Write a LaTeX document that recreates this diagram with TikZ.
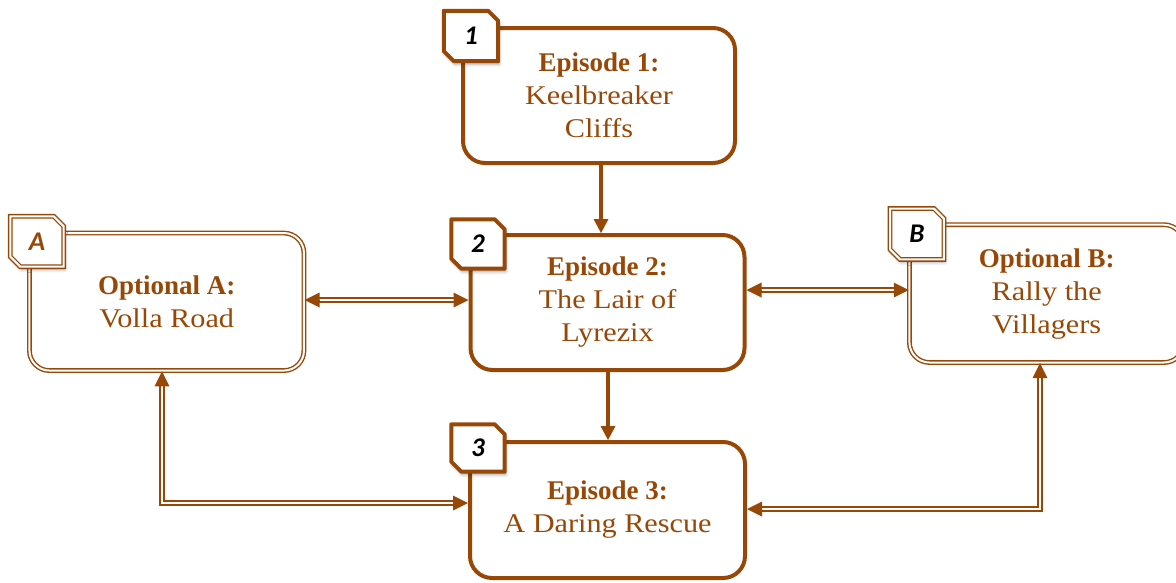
\documentclass[tikz,border=0pt]{standalone}
\usepackage{fontspec}
\setmainfont{Liberation Serif}[FakeStretch=1.12]
\newfontfamily\hdfont{Liberation Serif Bold}
\newfontfamily\badgefont{Carlito Bold Italic}
\usetikzlibrary{arrows.meta,shadows.blur,calc}
\definecolor{rust}{HTML}{984806}
\newcommand\badgeframe[2]{%
  \draw[#2] (#1.north west) -- ([xshift=-10pt]#1.north east) -- ([yshift=-10pt]#1.north east)
    -- (#1.south east) -- ([xshift=10pt]#1.south west) -- ([yshift=10pt]#1.south west) -- cycle;}
\newcommand\tipat[2]{\draw[tipstyle] ($(#2)!3pt!(#1)$) -- (#2);}
\begin{document}
\begin{tikzpicture}[x=1pt,y=-1pt,
  eptext/.style={text=rust, align=center, font=\fontsize{27}{33}\selectfont},
  epbox/.style={draw=rust, line width=4pt, rounded corners=22pt, eptext, inner sep=0pt},
  optbox/.style={draw=rust, line width=1.4pt, double=white, double distance=2pt, rounded corners=20pt, eptext, inner sep=0pt},
  badgenode/.style={inner sep=0pt},
  badgetext/.style={font=\badgefont\fontsize{27}{27}\selectfont, inner sep=0pt},
  epframe/.style={draw=rust, line width=4pt, fill=white, line join=round,
    blur shadow={shadow xshift=1pt, shadow yshift=-3pt, shadow opacity=35, shadow blur radius=3pt}},
  optframe/.style={draw=rust, line width=1.4pt, double=white, double distance=2pt, fill=white,
    blur shadow={shadow xshift=1pt, shadow yshift=-3pt, shadow opacity=35, shadow blur radius=3pt}},
  solidarrow/.style={draw=rust, line width=4pt, -{Triangle[length=14pt,width=15pt,line width=0pt]}},
  dblline/.style={draw=rust, line width=1.8pt, double=white, double distance=2.4pt},
  tipstyle/.style={draw=rust, line width=0.5pt, -{Triangle[length=15pt,width=15pt,line width=0pt]}},
]
\useasboundingbox (0,0) rectangle (1176,582);
\clip (0,0) rectangle (1176,582);

% boxes
\node[epbox, minimum width=272pt, minimum height=135pt] (e1) at (599,95.5)
  {{\hdfont Episode 1:}\\Keelbreaker\\Cliffs};
\node[epbox, minimum width=274pt, minimum height=135pt] (e2) at (607.5,302.5)
  {{\hdfont Episode 2:}\\The Lair of\\Lyrezix};
\node[epbox, minimum width=275pt, minimum height=136pt] (e3) at (607.5,510)
  {{\hdfont Episode 3:}\\A Daring Rescue};
\node[optbox, minimum width=274.5pt, minimum height=137.5pt] (oa) at (166.7,301.8)
  {{\hdfont Optional A:}\\Volla Road};
\node[optbox, minimum width=274.5pt, minimum height=137.8pt] (ob) at (1046.7,293.6)
  {{\hdfont Optional B:}\\Rally the\\Villagers};

% helper coordinates
\coordinate (x601) at (601,0);
\coordinate (x608) at (608,0);
\coordinate (y300) at (0,300);
\coordinate (y290) at (0,290);
\coordinate (y503) at (0,503);
\coordinate (x162) at (162,0);
\coordinate (y509) at (0,509);
\coordinate (x1040) at (1040,0);

% solid arrows
\draw[solidarrow] (e1.south -| x601) -- (e2.north -| x601);
\draw[solidarrow] (e2.south -| x608) -- (e3.north -| x608);

% A <-> 2
\coordinate (ca1) at (oa.east |- y300);
\coordinate (ca2) at (e2.west |- y300);
\draw[dblline, shorten <=13pt, shorten >=13pt] (ca1) -- (ca2);
\tipat{ca2}{ca1}
\tipat{ca1}{ca2}

% 2 <-> B
\coordinate (cb1) at (e2.east |- y290);
\coordinate (cb2) at (ob.west |- y290);
\draw[dblline, shorten <=13pt, shorten >=13pt] (cb1) -- (cb2);
\tipat{cb2}{cb1}
\tipat{cb1}{cb2}

% 3 <-> A
\coordinate (cc1) at (e3.west |- y503);
\coordinate (cc2) at (oa.south -| x162);
\coordinate (ccc) at (x162 |- y503);
\draw[dblline, shorten <=13pt, shorten >=13pt] (cc1) -| (cc2);
\tipat{ccc}{cc1}
\tipat{ccc}{cc2}

% B <-> 3
\coordinate (cd1) at (ob.south -| x1040);
\coordinate (cd2) at (e3.east |- y509);
\coordinate (cdc) at (x1040 |- y509);
\draw[dblline, shorten <=13pt, shorten >=13pt] (cd1) |- (cd2);
\tipat{cdc}{cd1}
\tipat{cdc}{cd2}

% badges
\node[badgenode, minimum width=54pt, minimum height=50pt] (b1) at (471,36) {};
\badgeframe{b1}{epframe}
\node[badgetext] (t1) at (b1) {1};
\node[badgenode, minimum width=53pt, minimum height=49pt] (b2) at (478,244) {};
\badgeframe{b2}{epframe}
\node[badgetext] (t2) at (b2) {2};
\node[badgenode, minimum width=53pt, minimum height=47pt] (b3) at (478,448) {};
\badgeframe{b3}{epframe}
\node[badgetext] (t3) at (b3) {3};
\node[badgenode, minimum width=53pt, minimum height=50pt] (ba) at (37,241.5) {};
\badgeframe{ba}{optframe}
\node[badgetext, text=rust] (ta) at (ba) {A};
\node[badgenode, minimum width=53.5pt, minimum height=50.5pt] (bb) at (917,234) {};
\badgeframe{bb}{optframe}
\node[badgetext] (tb) at (bb) {B};
\end{tikzpicture}
\end{document}
